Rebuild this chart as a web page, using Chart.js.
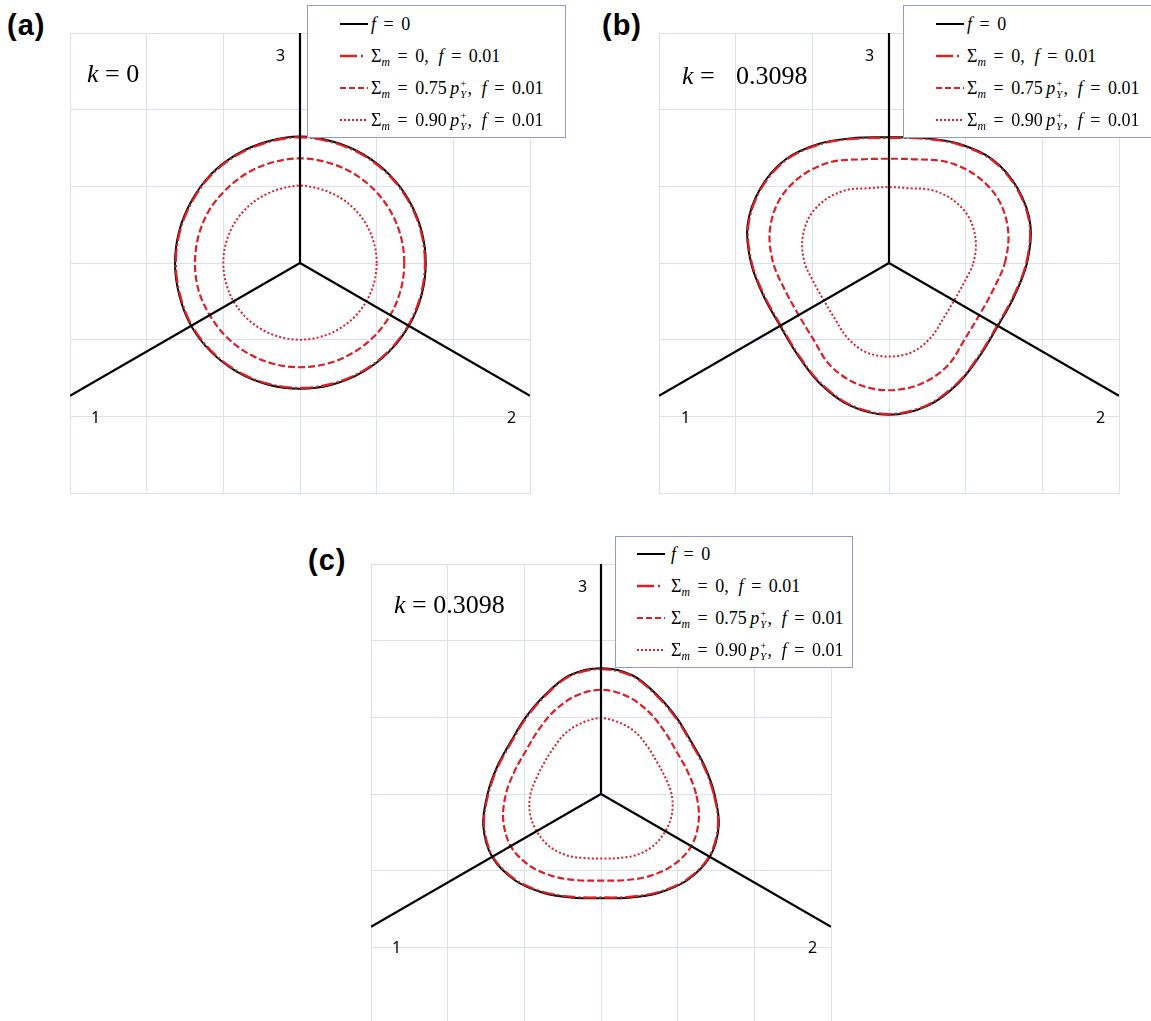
<!DOCTYPE html>
<html>
<head>
<meta charset="utf-8">
<title>Yield surfaces in the deviatoric plane</title>
<script src="https://cdn.jsdelivr.net/npm/chart.js@4.4.1/dist/chart.umd.min.js"></script>
<style>
  body { margin: 0; width: 1151px; height: 1021px; position: relative; overflow: hidden; background: #fff; }
  canvas.plot { position: absolute; }
  .tag { position: absolute; font: bold 29px "Liberation Sans", Arial, sans-serif; line-height: 1; letter-spacing: 1px; }
  .kval { position: absolute; font: 26px "Liberation Serif", "Times New Roman", serif; line-height: 1; white-space: nowrap; }
  .num { position: absolute; font: 16px "Noto Sans", sans-serif; line-height: 1; }
  .legend { position: absolute; background: #fff; border: 1px solid #8d9bd3; box-sizing: border-box;
            font: 18px "Liberation Serif", "Times New Roman", serif; }
  .row { position: absolute; height: 32px; white-space: nowrap; }
  .row svg { display: block; }
  .row .txt { position: absolute; top: 0; line-height: 32px; }
  .eq { margin: 0 0.42em; }
  .cm { margin-right: 0.3em; }
  .sb { font-size: 0.65em; vertical-align: -0.35em; }
  .ss { display: inline-block; font-size: 0.6em; line-height: 1; vertical-align: -0.35em; margin: 0 1px; }
  .ss span { display: block; }
</style>
</head>
<body>

<canvas class="plot" id="chartA" width="462" height="462" style="left:69px; top:32px"></canvas>
<canvas class="plot" id="chartB" width="462" height="462" style="left:658px; top:32px"></canvas>
<canvas class="plot" id="chartC" width="462" height="462" style="left:370px; top:563px"></canvas>

<div class="tag" style="left:7px; top:11px">(a)</div>
<div class="tag" style="left:602px; top:11px">(b)</div>
<div class="tag" style="left:308px; top:546px">(c)</div>

<div class="kval" style="left:87px; top:61px"><i>k</i> = 0</div>
<div class="kval" style="left:682px; top:63px"><i>k</i> =</div>
<div class="kval" style="left:736px; top:63px">0.3098</div>
<div class="kval" style="left:394px; top:592px"><i>k</i> = 0.3098</div>

<div class="num" style="left:276px; top:47px">3</div>
<div class="num" style="left:91px; top:409px">1</div>
<div class="num" style="left:507px; top:409px">2</div>
<div class="num" style="left:865px; top:47px">3</div>
<div class="num" style="left:681px; top:409px">1</div>
<div class="num" style="left:1096px; top:409px">2</div>
<div class="num" style="left:578px; top:578px">3</div>
<div class="num" style="left:392px; top:939px">1</div>
<div class="num" style="left:808px; top:939px">2</div>

<div class="legend" id="legA" style="left:307px; top:5px; width:259px; height:133px"></div>
<div class="legend" id="legB" style="left:903px; top:5px; width:259px; height:133px"></div>
<div class="legend" id="legC" style="left:615px; top:536px; width:238px; height:132px"></div>

<script>
const angles = [0, 15, 30, 45, 60, 75, 90, 105, 120, 135, 150, 165,
                180, 195, 210, 225, 240, 255, 270, 285, 300, 315, 330, 345];

// (a) k = 0
const aSolid   = [1.64, 1.64, 1.64, 1.64, 1.64, 1.64, 1.65, 1.64, 1.64, 1.64, 1.63, 1.63,
                  1.63, 1.63, 1.64, 1.64, 1.64, 1.64, 1.64, 1.64, 1.64, 1.64, 1.64, 1.64];
const aDashDot = [1.63, 1.63, 1.63, 1.63, 1.63, 1.63, 1.64, 1.63, 1.63, 1.63, 1.62, 1.62,
                  1.62, 1.62, 1.63, 1.63, 1.63, 1.63, 1.63, 1.63, 1.63, 1.63, 1.63, 1.63];
const aDashed  = [1.36, 1.36, 1.36, 1.36, 1.36, 1.36, 1.365, 1.36, 1.36, 1.36, 1.37, 1.37,
                  1.37, 1.37, 1.36, 1.36, 1.36, 1.36, 1.36, 1.36, 1.36, 1.36, 1.36, 1.36];
const aDotted  = [1.00, 1.00, 1.00, 1.00, 1.00, 1.00, 1.01, 1.00, 1.00, 1.00, 1.00, 1.00,
                  1.00, 1.00, 1.00, 1.00, 1.00, 1.00, 1.00, 1.00, 1.00, 1.00, 1.00, 1.00];

// (b) k = 0.3098 (pointed towards 30, 150, 270 deg)
const bSolid   = [1.80, 1.91, 1.94, 1.91, 1.80, 1.69, 1.64, 1.69, 1.80, 1.91, 1.94, 1.91,
                  1.80, 1.69, 1.64, 1.69, 1.81, 1.93, 1.98, 1.93, 1.81, 1.69, 1.64, 1.69];
const bDashDot = [1.79, 1.90, 1.93, 1.90, 1.79, 1.68, 1.63, 1.68, 1.79, 1.90, 1.93, 1.90,
                  1.79, 1.68, 1.63, 1.68, 1.80, 1.92, 1.97, 1.92, 1.80, 1.68, 1.63, 1.68];
const bDashed  = [1.51, 1.61, 1.65, 1.61, 1.52, 1.40, 1.36, 1.40, 1.52, 1.61, 1.65, 1.61,
                  1.51, 1.40, 1.36, 1.40, 1.54, 1.63, 1.66, 1.63, 1.54, 1.40, 1.36, 1.40];
const bDotted  = [1.10, 1.17, 1.20, 1.17, 1.10, 1.01, 0.99, 1.01, 1.10, 1.17, 1.20, 1.17,
                  1.10, 1.01, 0.98, 1.01, 1.11, 1.20, 1.22, 1.20, 1.11, 1.01, 0.98, 1.01];

// (c) k = 0.3098 (pointed along the axes 1, 2, 3)
const cSolid   = [1.48, 1.40, 1.36, 1.40, 1.48, 1.60, 1.64, 1.60, 1.48, 1.40, 1.36, 1.40,
                  1.48, 1.59, 1.64, 1.59, 1.49, 1.40, 1.36, 1.40, 1.49, 1.59, 1.64, 1.59];
const cDashDot = [1.47, 1.39, 1.35, 1.39, 1.47, 1.59, 1.63, 1.59, 1.47, 1.39, 1.35, 1.39,
                  1.47, 1.58, 1.63, 1.58, 1.48, 1.39, 1.35, 1.39, 1.48, 1.58, 1.63, 1.58];
const cDashed  = [1.24, 1.165, 1.13, 1.165, 1.24, 1.32, 1.36, 1.32, 1.24, 1.165, 1.13, 1.165,
                  1.24, 1.32, 1.36, 1.32, 1.24, 1.165, 1.13, 1.165, 1.24, 1.32, 1.36, 1.32];
const cDotted  = [0.92, 0.865, 0.84, 0.865, 0.92, 0.96, 0.99, 0.96, 0.92, 0.865, 0.845, 0.865,
                  0.92, 0.96, 0.97, 0.96, 0.92, 0.865, 0.84, 0.865, 0.92, 0.96, 0.97, 0.96];

// principal stress axes
const axisNames  = ['1', '2', '3'];
const axisAngles = [210, 330, 90];

// grid extent in both directions
const gridMin = -3, gridMax = 3;

const pY = '<i>p</i><span class="ss"><span>+</span><span><i>Y</i></span></span>';
const seriesLabels = [
  '<i>f</i><span class="eq">=</span>0',
  'Σ<span class="sb"><i>m</i></span><span class="eq">=</span>0,<span class="cm"></span> <i>f</i><span class="eq">=</span>0.01',
  'Σ<span class="sb"><i>m</i></span><span class="eq">=</span>0.75&thinsp;' + pY + ',<span class="cm"></span> <i>f</i><span class="eq">=</span>0.01',
  'Σ<span class="sb"><i>m</i></span><span class="eq">=</span>0.90&thinsp;' + pY + ',<span class="cm"></span> <i>f</i><span class="eq">=</span>0.01'
];

const red = '#db1f27';
const seriesStyles = [
  { color: '#000000', width: 2,   dash: [],            key: [] },
  { color: red,       width: 2.3, dash: [13, 3, 2, 3], key: [17, 4, 2, 10] },
  { color: red,       width: 2.2, dash: [7, 3],        key: [6, 3] },
  { color: red,       width: 2,   dash: [2, 2.2],      key: [2, 2] }
];

const gridColor = '#dcdfef';

function toXY(r) {
  return angles.map((a, i) => ({
    x: r[i] * Math.cos(a * Math.PI / 180),
    y: r[i] * Math.sin(a * Math.PI / 180)
  }));
}

// closed curve: one extra point on each end so the spline is smooth where it closes,
// the two extra segments are drawn transparent
function loopDataset(r, style, order) {
  const pts = toXY(r);
  const n = pts.length;
  return {
    data: [pts[n - 1], ...pts, pts[0], pts[1]],
    showLine: true,
    borderColor: style.color,
    borderWidth: style.width,
    borderDash: style.dash,
    pointRadius: 0,
    tension: 0.34,
    order: order,
    segment: {
      borderColor: ctx => (ctx.p0DataIndex === 0 || ctx.p0DataIndex === n + 1) ? 'rgba(0,0,0,0)' : undefined
    }
  };
}

function axisDataset(angle) {
  const c = Math.cos(angle * Math.PI / 180), s = Math.sin(angle * Math.PI / 180);
  const tx = Math.abs(c) > 1e-9 ? gridMax / Math.abs(c) : Infinity;
  const ty = Math.abs(s) > 1e-9 ? gridMax / Math.abs(s) : Infinity;
  const t = Math.min(tx, ty);
  return {
    data: [{ x: 0, y: 0 }, { x: t * c, y: t * s }],
    showLine: true,
    borderColor: '#000',
    borderWidth: 2.2,
    pointRadius: 0,
    order: 0
  };
}

function scaleOpts() {
  return {
    type: 'linear',
    min: gridMin,
    max: gridMax,
    ticks: { display: false, stepSize: 1 },
    grid: { color: gridColor, lineWidth: 1, drawTicks: false },
    border: { display: true, color: gridColor, width: 1 }
  };
}

function makePanel(id, curves) {
  const datasets = [];
  curves.forEach((r, i) => datasets.push(loopDataset(r, seriesStyles[i], 10 - i)));
  axisAngles.forEach(a => datasets.push(axisDataset(a)));

  return new Chart(document.getElementById(id), {
    type: 'scatter',
    data: { datasets: datasets },
    options: {
      responsive: false,
      animation: false,
      events: [],
      layout: { padding: 1 },
      plugins: { legend: { display: false }, tooltip: { enabled: false } },
      scales: { x: scaleOpts(), y: scaleOpts() }
    }
  });
}

function sampleSvg(style) {
  const dash = style.key.length ? style.key.join(' ') : 'none';
  return '<svg width="28" height="8"><line x1="0" y1="4" x2="28" y2="4" stroke="' + style.color +
    '" stroke-width="' + style.width + '" stroke-dasharray="' + dash + '"/></svg>';
}

function makeLegend(id, firstRow, rowGap, sampleLeft, textLeft) {
  const box = document.getElementById(id);
  let html = '';
  seriesLabels.forEach((lab, i) => {
    html += '<div class="row" style="top:' + (firstRow + i * rowGap) + 'px; left:0; right:0">' +
      '<span style="position:absolute; left:' + sampleLeft + 'px; top:12px">' + sampleSvg(seriesStyles[i]) + '</span>' +
      '<span class="txt" style="left:' + textLeft + 'px">' + lab + '</span></div>';
  });
  box.innerHTML = html;
}

makePanel('chartA', [aSolid, aDashDot, aDashed, aDotted]);
makePanel('chartB', [bSolid, bDashDot, bDashed, bDotted]);
makePanel('chartC', [cSolid, cDashDot, cDashed, cDotted]);

makeLegend('legA', 2, 32, 32, 63);
makeLegend('legB', 2, 32, 32, 63);
makeLegend('legC', 1, 32, 21, 55);
</script>
</body>
</html>
